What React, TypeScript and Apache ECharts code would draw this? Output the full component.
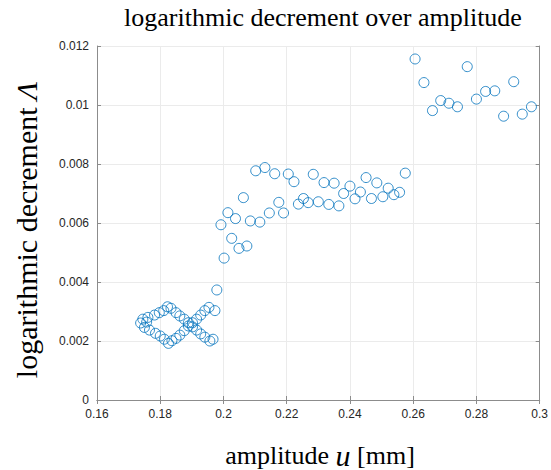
import React, { useEffect, useRef } from "react";
import * as echarts from "echarts";

// amplitude u [mm] and logarithmic decrement Λ
const lowAmplitude = [
  0.1745, 0.1761, 0.1782, 0.1797, 0.1811, 0.1823, 0.1834, 0.185, 0.1862, 0.1876,
  0.1889, 0.1902, 0.1915, 0.1928, 0.1941, 0.1957, 0.1967,
  0.175, 0.1766, 0.1785, 0.18, 0.1813, 0.1826, 0.1837, 0.185, 0.1862, 0.1876,
  0.1889, 0.1902, 0.1915, 0.1928, 0.1941, 0.1954, 0.1973,
  0.1738, 0.1757, 0.1979,
];
const lowDecrement = [
  0.00274, 0.0028, 0.00288, 0.00296, 0.00303, 0.00316, 0.00311, 0.00296, 0.00285, 0.00274,
  0.00262, 0.00248, 0.00237, 0.00224, 0.00213, 0.002, 0.00206,
  0.00246, 0.00237, 0.00226, 0.00217, 0.00206, 0.00192, 0.00201, 0.00209, 0.0022, 0.00235,
  0.00251, 0.00262, 0.00274, 0.00288, 0.00303, 0.00314, 0.00303,
  0.00261, 0.00264, 0.00373,
];
const midAmplitude = [
  0.1992, 0.2002, 0.2014, 0.2026, 0.2038, 0.2049, 0.2063, 0.2074, 0.2085, 0.2102,
  0.2115, 0.2131, 0.2145, 0.2162, 0.2175, 0.219, 0.2205, 0.2223, 0.2237, 0.2253,
  0.2268, 0.2284, 0.23, 0.2318, 0.2333, 0.235, 0.2365, 0.238, 0.24, 0.2416,
  0.2433, 0.2451, 0.2468, 0.2485, 0.2504, 0.2521, 0.2539, 0.2557, 0.2575,
];
const midDecrement = [
  0.00594, 0.00481, 0.00635, 0.00548, 0.00615, 0.00514, 0.00686, 0.00522, 0.00607, 0.00777,
  0.00603, 0.00788, 0.00634, 0.00767, 0.0067, 0.00634, 0.00766, 0.0074, 0.00664, 0.00683,
  0.00669, 0.00765, 0.00672, 0.00737, 0.00663, 0.00735, 0.00658, 0.007, 0.00725, 0.00682,
  0.00705, 0.00754, 0.00683, 0.00736, 0.00689, 0.00718, 0.00696, 0.00704, 0.00769,
];
const highAmplitude = [
  0.2606, 0.2634, 0.2661, 0.2687, 0.2713, 0.274, 0.2771, 0.28, 0.2829, 0.2858,
  0.2886, 0.2918, 0.2945, 0.2974,
];
const highDecrement = [
  0.01156, 0.01076, 0.00981, 0.01015, 0.01006, 0.00994, 0.0113, 0.0102, 0.01046, 0.01048,
  0.00962, 0.01079, 0.00969, 0.00994,
];

const xTicks = { min: 0.16, max: 0.3, interval: 0.02 };
const yTicks = { min: 0, max: 0.012, interval: 0.002 };

const titleText = "logarithmic decrement over amplitude";

export default function App() {
  const ref = useRef<HTMLDivElement>(null);
  useEffect(() => {
    if (!ref.current) return;
    const chart = echarts.init(ref.current, undefined, { renderer: "svg" });
    const pairs = (xs: number[], ys: number[]) => xs.map((x, i) => [x, ys[i]]);
    const data = [
      ...pairs(lowAmplitude, lowDecrement),
      ...pairs(midAmplitude, midDecrement),
      ...pairs(highAmplitude, highDecrement),
    ];
    const fmt = (v: number) => String(+v.toFixed(4));
    const frame = "#8c8c8c";
    const labelStyle = { color: "#262626", fontFamily: "Liberation Sans", fontSize: 12 };
    const serif = "Liberation Serif";
    chart.setOption({
      animation: false,
      backgroundColor: "#ffffff",
      grid: { left: 97, right: 7, top: 46, bottom: 70 },
      xAxis: [
        {
          type: "value",
          ...xTicks,
          axisLine: { show: true, lineStyle: { color: frame, width: 1 } },
          axisTick: { show: true, inside: true, length: 4, lineStyle: { color: frame } },
          axisLabel: { ...labelStyle, formatter: fmt, margin: 8 },
          splitLine: { show: true, lineStyle: { color: "#ebebeb", width: 1 } },
        },
        {
          type: "value",
          position: "top",
          ...xTicks,
          axisLine: { show: true, lineStyle: { color: frame, width: 1 } },
          axisTick: { show: true, inside: true, length: 4, lineStyle: { color: frame } },
          axisLabel: { show: false },
          splitLine: { show: false },
        },
      ],
      yAxis: [
        {
          type: "value",
          ...yTicks,
          axisLine: { show: true, lineStyle: { color: frame, width: 1 } },
          axisTick: { show: true, inside: true, length: 4, lineStyle: { color: frame } },
          axisLabel: { ...labelStyle, formatter: fmt, margin: 8 },
          splitLine: { show: true, lineStyle: { color: "#ebebeb", width: 1 } },
        },
        {
          type: "value",
          position: "right",
          ...yTicks,
          axisLine: { show: true, lineStyle: { color: frame, width: 1 } },
          axisTick: { show: true, inside: true, length: 4, lineStyle: { color: frame } },
          axisLabel: { show: false },
          splitLine: { show: false },
        },
      ],
      series: [
        {
          type: "scatter",
          xAxisIndex: 0,
          yAxisIndex: 0,
          data,
          symbol: "circle",
          symbolSize: 10,
          itemStyle: { color: "rgba(0,0,0,0)", borderColor: "#0072BD", borderWidth: 1 },
          emphasis: { disabled: true },
        },
      ],
      graphic: [
        {
          type: "text",
          x: 323,
          y: 17,
          style: {
            text: titleText,
            fontFamily: serif,
            fontSize: 26,
            fill: "#000000",
            textAlign: "center",
            textVerticalAlign: "middle",
          },
        },
        {
          type: "text",
          x: 320,
          y: 455,
          style: {
            text: "{a|amplitude }{b|u}{a| [mm]}",
            textAlign: "center",
            textVerticalAlign: "middle",
            rich: {
              a: { fontFamily: serif, fontSize: 26, fill: "#000000" },
              b: { fontFamily: serif, fontSize: 30, fontStyle: "italic", fill: "#000000" },
            },
          },
        },
        {
          type: "text",
          x: 26,
          y: 230,
          rotation: Math.PI / 2,
          style: {
            text: "{a|logarithmic decrement }{b|Λ}",
            textAlign: "center",
            textVerticalAlign: "middle",
            rich: {
              a: { fontFamily: serif, fontSize: 30, fill: "#000000" },
              b: { fontFamily: serif, fontSize: 30, fontStyle: "italic", fill: "#000000" },
            },
          },
        },
      ],
    });
    return () => chart.dispose();
  }, []);
  return (
    <div
      ref={ref}
      style={{ position: "fixed", left: 0, top: 0, width: 551, height: 470, background: "#fff" }}
    />
  );
}
